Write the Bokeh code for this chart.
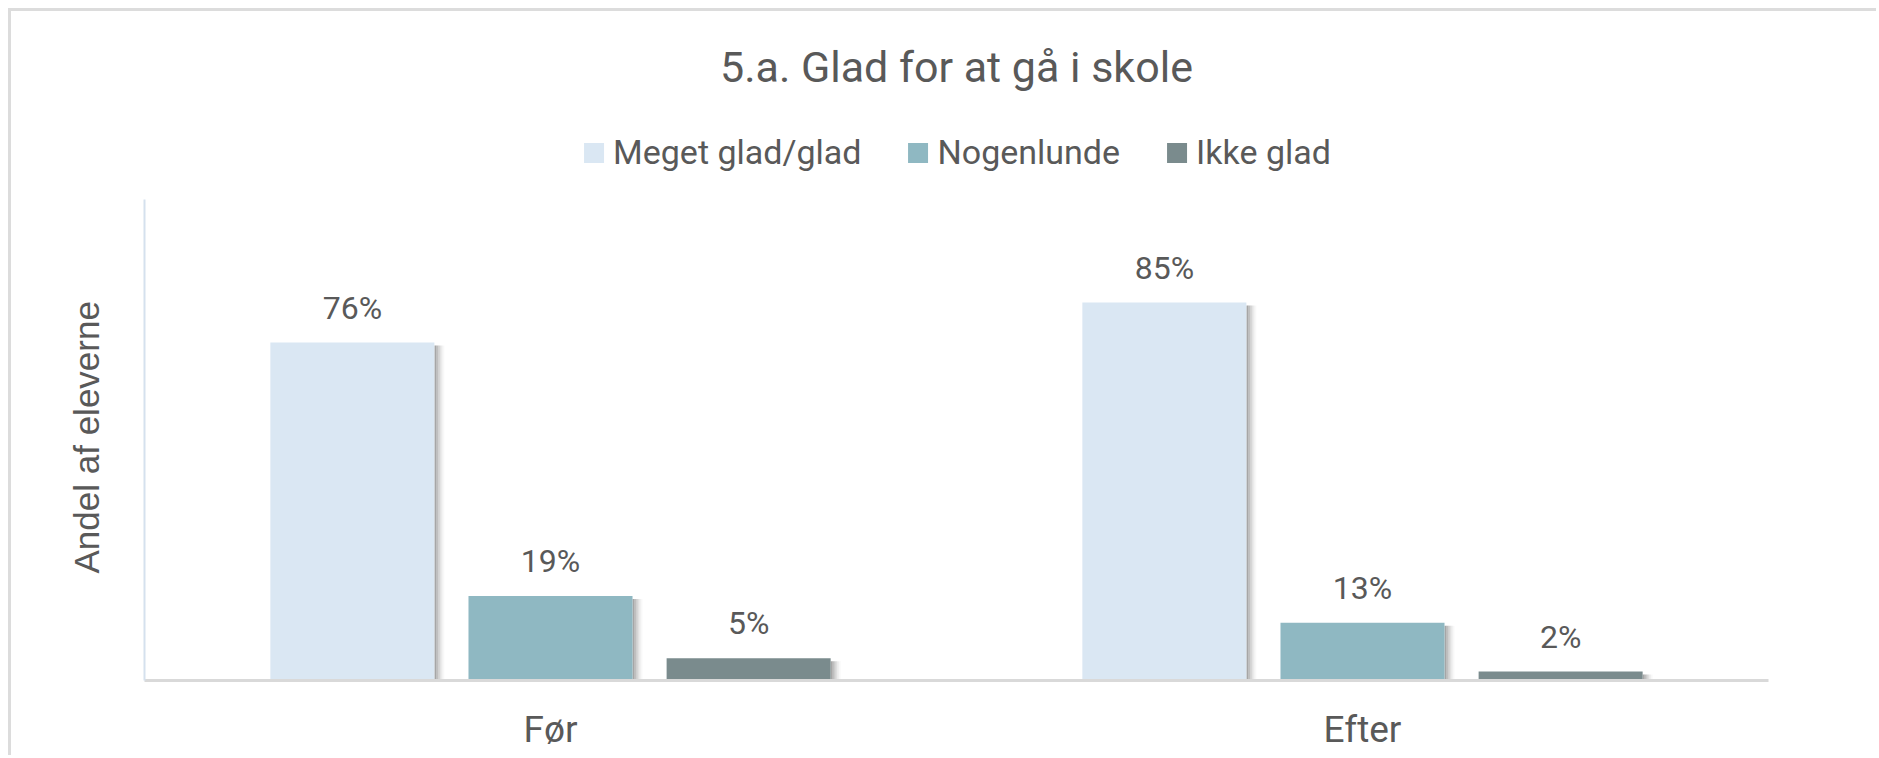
from bokeh.plotting import figure
from bokeh.models import (FactorRange, Range1d, FixedTicker, Legend, LegendItem,
                          Label, Title, ColumnDataSource)
from bokeh.transform import dodge
from bokeh.core.properties import value
from bokeh.embed import file_html
from bokeh.resources import INLINE

# ---------------- data ----------------
title_text = "5.a. Glad for at gå i skole"
y_label = "Andel af eleverne"
categories = ["Før", "Efter"]
series_names = ["Meget glad/glad", "Nogenlunde", "Ikke glad"]
meget_glad = [0.76, 0.85]
nogenlunde = [0.19, 0.13]
ikke_glad = [0.05, 0.02]
series_colors = ["#DAE7F3", "#8FB8C2", "#7A8B8D"]

# ---------------- style ----------------
TEXT = "#595959"
FONT = "Roboto"
W, H = 1868, 747
FRAME_L, FRAME_R = 133, 1757           # frame in figure px
FRAME_B = 669                          # x-axis line (figure px from top)
PX_PER_UNIT = 444.7                    # vertical pixels per 100 %
Y_TOP = FRAME_B / PX_PER_UNIT          # frame top is at figure top
PX_X = 1.0 / ((FRAME_R - FRAME_L) / 2) # one pixel in category units

src = ColumnDataSource(dict(
    cat=categories,
    s0=meget_glad, s1=nogenlunde, s2=ikke_glad,
    s0_lbl=[f"{round(v * 100)}%" for v in meget_glad],
    s1_lbl=[f"{round(v * 100)}%" for v in nogenlunde],
    s2_lbl=[f"{round(v * 100)}%" for v in ikke_glad],
    s0_sh=[v - 3.0 / PX_PER_UNIT for v in meget_glad],
    s1_sh=[v - 3.0 / PX_PER_UNIT for v in nogenlunde],
    s2_sh=[v - 3.0 / PX_PER_UNIT for v in ikke_glad],
))

p = figure(width=W, height=H,
           x_range=FactorRange(factors=categories, range_padding=0),
           y_range=Range1d(0, Y_TOP),
           output_backend="svg", toolbar_location=None, title_location=None,
           min_border_left=FRAME_L, min_border_right=W - FRAME_R,
           min_border_top=0, min_border_bottom=H - FRAME_B)
p.outline_line_color = None
p.background_fill_color = "white"
p.border_fill_color = "white"
p.xgrid.visible = False
p.ygrid.visible = False
p.styles = {"margin-left": "8px", "margin-top": "8px",
            "border-top": "3px solid #DCDCDC", "border-left": "3px solid #DCDCDC"}

offsets = [-0.244, 0.0, 0.244]
bar_w = 0.202
shadow_alphas = [0.7, 0.5, 0.32, 0.16, 0.06]

bar_renderers = []
for i, (off, col) in enumerate(zip(offsets, series_colors)):
    key = f"s{i}"
    for k, a in enumerate(shadow_alphas):
        p.vbar(x=dodge("cat", off + bar_w / 2 + (2 * k + 1) * PX_X, range=p.x_range),
               top=key + "_sh", bottom=0, width=2 * PX_X, source=src,
               fill_color="#808080", fill_alpha=a, line_color=None)
    r = p.vbar(x=dodge("cat", off, range=p.x_range), top=key, bottom=0,
               width=bar_w, source=src, fill_color=col, line_color=None)
    bar_renderers.append(r)
    p.text(x=dodge("cat", off, range=p.x_range), y=key, text=key + "_lbl",
           source=src, y_offset=-35, text_align="center", text_baseline="middle",
           text_font=value(FONT), text_font_size="32px", text_color=TEXT)

# x axis
xa = p.xaxis[0]
xa.axis_line_color = "#D9D9D9"
xa.axis_line_width = 3
xa.major_tick_line_color = None
xa.minor_tick_line_color = None
xa.major_tick_out = 0
xa.major_tick_in = 0
xa.major_label_text_font = FONT
xa.major_label_text_font_size = "37px"
xa.major_label_text_color = TEXT
xa.major_label_standoff = 27

# y axis: line only, up to the top of the value area
ya = p.yaxis[0]
ya.ticker = FixedTicker(ticks=[])
ya.bounds = (0, 1.082)
ya.axis_line_color = "#D5E1EE"
ya.axis_line_width = 2
ya.major_tick_out = 0
ya.major_tick_in = 0
ya.minor_tick_line_color = None
ya.major_label_standoff = 0

# y-axis title, placed along the drawn axis line
ytitle = Title(text=y_label, align="left", offset=107, standoff=78,
               text_font="Liberation Sans", text_font_size="35px",
               text_font_style="normal", text_color=TEXT)
p.add_layout(ytitle, "left")

# chart title
title = Label(x=1.0, y=(FRAME_B - 55) / PX_PER_UNIT, text=title_text,
              text_align="center", text_baseline="middle",
              text_font=FONT, text_font_size="43px", text_color=TEXT)
p.add_layout(title)

# legend
legend = Legend(items=[LegendItem(label=n, renderers=[r])
                       for n, r in zip(series_names, bar_renderers)],
                location="top_center", orientation="horizontal",
                label_text_font=FONT, label_text_font_size="34px",
                label_text_color=TEXT, glyph_width=25, glyph_height=25,
                label_standoff=7, spacing=44, padding=121, margin=0,
                background_fill_alpha=0, border_line_alpha=0)
p.add_layout(legend)

open("out.html", "w").write(file_html(p, INLINE))
